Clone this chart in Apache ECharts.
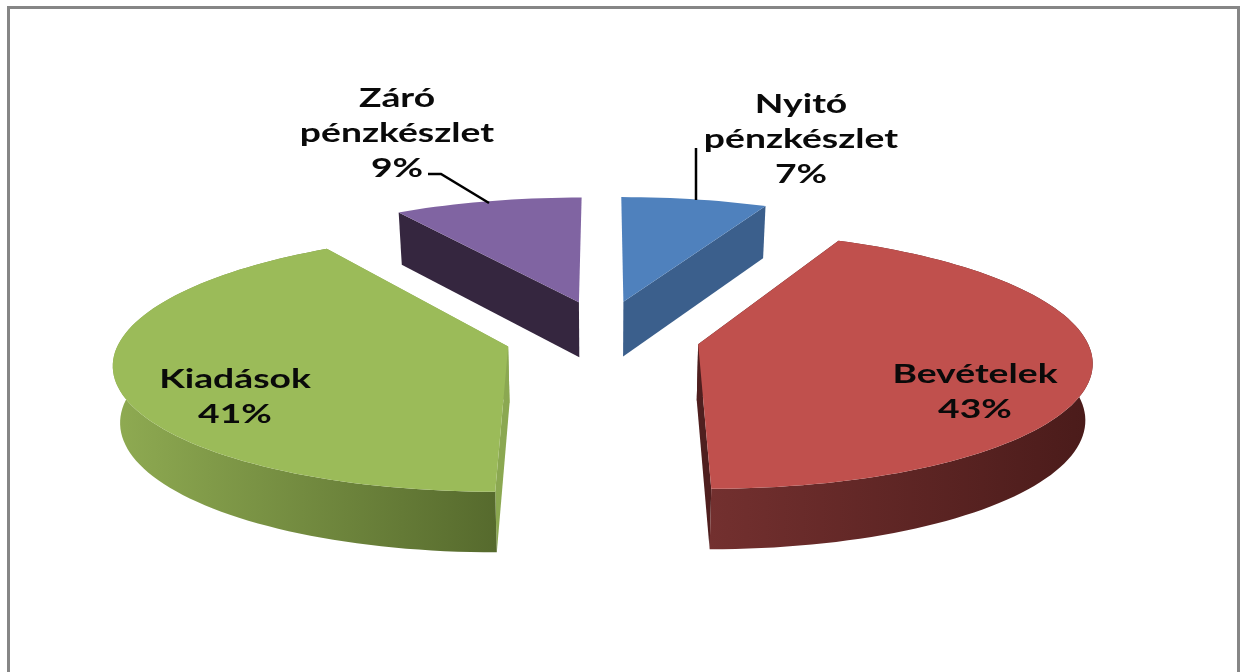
<!DOCTYPE html>
<html>
<head>
<meta charset="utf-8">
<title>Pénzkészlet</title>
<script src="https://cdn.jsdelivr.net/npm/echarts@6/dist/echarts.min.js"></script>
<style>
  html, body { margin: 0; padding: 0; background: #fff; }
  #main { width: 1246px; height: 672px; }
</style>
</head>
<body>
<div id="main"></div>
<script>
var categories = ["Nyitó\npénzkészlet", "Bevételek", "Kiadások", "Záró\npénzkészlet"];
var values = [7, 43, 41, 9];

var topColors = ["#4f81bd", "#c0504d", "#9bbb59", "#8064a2"];
var sideColors = ["#3b5f8c", "#4f1f1f", "#8ba851", "#35263f"];
var wallStops = [
  ["#3b5f8c", "#3b5f8c"],
  ["#73302f", "#4a1b1a"],
  ["#8fab52", "#566a2d"],
  ["#35263f", "#35263f"]
];
var labelPlace = [[801, 139], [975, 392], [235, 397], [397, 133]];
var sliceNudge = [[1, 0], [1, -1], [0, -1], [3, 0]];
var leaderLines = [
  [[696, 148], [696, 200]],
  null,
  null,
  [[428, 174], [441, 174], [489, 203]]
];

// 3D look: disc coordinates are pushed through a small perspective
var cx = 602, cy = 337, rx = 387, ry = 125, persp = 0.12;
var explodeX = 0.25, explodeY = 0.3;

var total = values.reduce(function (a, b) { return a + b; }, 0);

function project(i, mid, angle, r, drop) {
  var X = explodeX * Math.sin(mid) + r * Math.sin(angle);
  var Y = -explodeY * Math.cos(mid) - r * Math.cos(angle);
  var s = 1 / (1 - persp * Y);
  return [
    cx + sliceNudge[i][0] + rx * X * s * (drop ? 0.985 : 1),
    cy + sliceNudge[i][1] + ry * Y * s + (drop ? 31 * s + 25 : 0)
  ];
}

function renderSlice(params) {
  var i = params.dataIndex;
  var before = 0;
  for (var k = 0; k < i; k++) before += values[k];
  var a0 = before / total * Math.PI * 2;
  var a1 = (before + values[i]) / total * Math.PI * 2;
  var mid = (a0 + a1) / 2;

  var topArc = [], lowArc = [];
  var steps = Math.ceil((a1 - a0) / 0.03);
  for (var n = 0; n <= steps; n++) {
    var a = a0 + (a1 - a0) * n / steps;
    topArc.push(project(i, mid, a, 1, false));
    lowArc.push(project(i, mid, a, 1, true));
  }
  var apex = project(i, mid, 0, 0, false);
  var apexLow = project(i, mid, 0, 0, true);

  var children = [];
  // cut faces, the ones at 12 o'clock do not show
  if (i > 0) {
    children.push({
      type: "polygon",
      shape: { points: [apex, topArc[0], lowArc[0], apexLow] },
      style: { fill: sideColors[i] }
    });
  }
  if (i < values.length - 1) {
    children.push({
      type: "polygon",
      shape: { points: [apex, topArc[steps], lowArc[steps], apexLow] },
      style: { fill: sideColors[i] }
    });
  }
  // outer wall, only on slices that face the viewer
  if (Math.cos(mid) < 0.5) {
    children.push({
      type: "polygon",
      shape: { points: topArc.concat(lowArc.slice().reverse()) },
      style: {
        fill: {
          type: "linear", x: 0, y: 0, x2: 1, y2: 0,
          colorStops: [
            { offset: 0, color: wallStops[i][0] },
            { offset: 1, color: wallStops[i][1] }
          ]
        }
      }
    });
  }
  // top face
  children.push({
    type: "polygon",
    shape: { points: [apex].concat(topArc) },
    style: { fill: topColors[i] }
  });
  if (leaderLines[i]) {
    children.push({
      type: "polyline",
      shape: { points: leaderLines[i] },
      style: { stroke: "#000", lineWidth: 2.5, fill: null }
    });
  }
  children.push({
    type: "text",
    z2: 10,
    x: labelPlace[i][0],
    y: labelPlace[i][1],
    scaleX: 1.38,
    style: {
      text: categories[i] + "\n" + values[i] + "%",
      x: 0,
      y: 0,
      align: "center",
      verticalAlign: "middle",
      fontFamily: "Lato",
      fontWeight: "bold",
      fontSize: 27,
      lineHeight: 35,
      fill: "#0a0a0a"
    }
  });
  return { type: "group", children: children };
}

var myChart = echarts.init(document.getElementById("main"), null, { renderer: "canvas" });
var option = {
  animation: false,
  backgroundColor: "#fff",
  graphic: [{
    type: "rect",
    shape: { x: 8.5, y: 7.5, width: 1230, height: 680 },
    style: { fill: "none", stroke: "#868686", lineWidth: 3 },
    silent: true
  }],
  series: [{
    type: "custom",
    coordinateSystem: "none",
    renderItem: renderSlice,
    data: values
  }]
};
myChart.setOption(option);
</script>
</body>
</html>
